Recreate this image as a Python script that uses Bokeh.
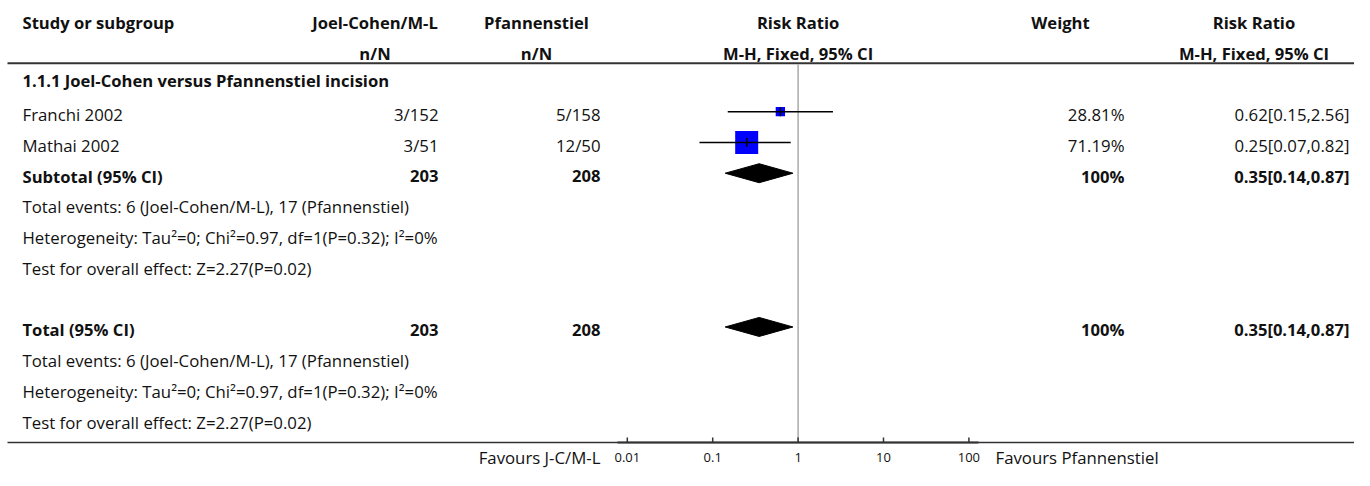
import math
from bokeh.plotting import figure
from bokeh.models import Range1d, LogScale, ColumnDataSource
from bokeh.core.properties import value
from bokeh.embed import file_html
from bokeh.resources import INLINE

# ---------------- data ----------------
studies = ["Franchi 2002", "Mathai 2002"]
jc_events = [3, 3]
jc_total = [152, 51]
pf_events = [5, 12]
pf_total = [158, 50]
weights = [28.81, 71.19]
rr = [0.62, 0.25]
rr_lo = [0.15, 0.07]
rr_hi = [2.56, 0.82]

subgroup_title = "1.1.1 Joel-Cohen versus Pfannenstiel incision"
pooled_rr = 0.35
pooled_lo = 0.14
pooled_hi = 0.87
pooled_weight = "100%"
stat_lines = ["Total events: 6 (Joel-Cohen/M-L), 17 (Pfannenstiel)",
              "Heterogeneity: Tau\u00b2=0; Chi\u00b2=0.97, df=1(P=0.32); I\u00b2=0%",
              "Test for overall effect: Z=2.27(P=0.02)"]
headers1 = ["Study or subgroup", "Joel-Cohen/M-L", "Pfannenstiel", "Risk Ratio", "Weight", "Risk Ratio"]
headers2 = ["n/N", "n/N", "M-H, Fixed, 95% CI", "M-H, Fixed, 95% CI"]
tick_values = [0.01, 0.1, 1, 10, 100]
tick_labels = ["0.01", "0.1", "1", "10", "100"]
favours_left = "Favours J-C/M-L"
favours_right = "Favours Pfannenstiel"

# ---------------- layout ----------------
FONT = "Open Sans"
FS = "16.8px"
FS_B = "16.6px"
TXT = "#111111"
W, H = 1354, 470
SY = 0.967                        # vertical squeeze to fit 470 px
FB = round(457 * SY)              # y of bottom rule / axis line
ROW0, ROWH = 19.6 * SY, 31.8 * SY # y of row 0, row pitch
X1, DEC = 797.6, 85.4             # x of RR=1, px per decade


def row_of(py):
    return (py - ROW0) / ROWH


def rr_of(px):
    return 10 ** ((px - X1) / DEC)


p = figure(frame_width=W, frame_height=H, min_border=0,
           x_range=Range1d(0, W),
           y_range=Range1d(row_of(H), row_of(0)),
           output_backend="svg", toolbar_location=None,
           x_axis_location=None, y_axis_location=None)
p.grid.visible = False
p.outline_line_color = None
p.background_fill_color = "white"
p.border_fill_color = "white"

p.extra_x_ranges = {"rr": Range1d(rr_of(0), rr_of(W))}
p.extra_x_scales = {"rr": LogScale()}

# rows
R_H1, R_H2, R_SG = 0, 1, 2
study_rows = [3, 4]
R_SUB = 5
sub_stat_rows = [6, 7, 8]
R_TOT = 10
tot_stat_rows = [11, 12, 13]
R_AX = row_of(FB)
R_TL = row_of(473 * SY)

# ---------------- lines ----------------
p.segment(x0=[7], x1=[W], y0=[row_of(65 * SY)], y1=[row_of(65 * SY)],
          line_color="#333333", line_width=2)
p.segment(x0=[7], x1=[W], y0=[R_AX], y1=[R_AX],
          line_color="#333333", line_width=1.5)
p.segment(x0=[1], x1=[1], y0=[row_of(66 * SY)], y1=[R_AX], x_range_name="rr",
          line_color="#aaaaaa", line_width=1.5)

# ---------------- x axis (log scale) ----------------
p.segment(x0=[rr_of(617)], x1=[rr_of(978)], y0=[R_AX], y1=[R_AX], x_range_name="rr",
          line_color="#333333", line_width=2)
p.segment(x0=tick_values, x1=tick_values, y0=[R_AX - 5 / ROWH] * len(tick_values),
          y1=[R_AX] * len(tick_values), x_range_name="rr",
          line_color="#333333", line_width=1.5)
p.text(x=tick_values, y=[R_TL] * len(tick_values), text=tick_labels, x_range_name="rr",
       text_align="center", text_baseline="middle", text_font=value(FONT),
       text_font_size="13px", text_color=TXT)

# ---------------- study marks ----------------
src = ColumnDataSource(dict(
    y=study_rows, rr=rr, lo=rr_lo, hi=rr_hi,
    size=[w * 23 / 71.19 for w in weights],
    t0=[r - 4.5 / ROWH for r in study_rows], t1=[r + 4.5 / ROWH for r in study_rows]))
p.scatter(x="rr", y="y", size="size", marker="square", source=src, x_range_name="rr",
          fill_color="#0000ff", line_color=None)
p.segment(x0="lo", x1="hi", y0="y", y1="y", source=src, x_range_name="rr",
          line_color="black", line_width=1.5)
p.segment(x0="rr", x1="rr", y0="t0", y1="t1", source=src, x_range_name="rr",
          line_color="black", line_width=1.5)

# pooled diamonds
HD = 9.5 / ROWH
dx, dy = [], []
for r in (R_SUB, R_TOT):
    dx.append([pooled_lo, pooled_rr, pooled_hi, pooled_rr])
    dy.append([r, r - HD, r, r + HD])
p.patches(xs=dx, ys=dy, x_range_name="rr", fill_color="black", line_color="black", line_width=1)


# ---------------- texts ----------------
def txt(xs, ys, texts, align="left", bold=False, yoff=3):
    p.text(x=xs, y=ys, text=texts, text_align=align, text_baseline="middle",
           text_font=value(FONT), text_font_size=FS_B if bold else FS,
           text_font_style="bold" if bold else "normal",
           text_color=TXT, y_offset=yoff)


XL = 22
XB_C, XB_R = 374.5, 438
XC_C, XC_R = 536, 600
XW_C, XW_R = 1060, 1124
XR_C, XR_R = 1253.5, 1349

# headers
txt([XL], [R_H1], [headers1[0]], bold=True)
txt([XB_C, XC_C, X1, XW_C, XR_C], [R_H1] * 5, headers1[1:], align="center", bold=True)
txt([XB_C, XC_C, X1, XR_C], [R_H2] * 4, headers2, align="center", bold=True)
txt([XL], [R_SG], [subgroup_title], bold=True, yoff=0)

# studies
txt([XL] * 2, study_rows, studies)
txt([XB_R] * 2, study_rows, [f"{e}/{n}" for e, n in zip(jc_events, jc_total)], align="right")
txt([XC_R] * 2, study_rows, [f"{e}/{n}" for e, n in zip(pf_events, pf_total)], align="right")
txt([XW_R] * 2, study_rows, [f"{w:.2f}%" for w in weights], align="right")
txt([XR_R] * 2, study_rows, [f"{a:.2f}[{b:.2f},{c:.2f}]" for a, b, c in zip(rr, rr_lo, rr_hi)],
    align="right")

# subtotal & total
pooled_str = f"{pooled_rr:.2f}[{pooled_lo:.2f},{pooled_hi:.2f}]"
for r, lab, stat_rows in ((R_SUB, "Subtotal (95% CI)", sub_stat_rows),
                          (R_TOT, "Total (95% CI)", tot_stat_rows)):
    txt([XL], [r], [lab], bold=True)
    txt([XB_R], [r], [str(sum(jc_total))], align="right", bold=True)
    txt([XC_R], [r], [str(sum(pf_total))], align="right", bold=True)
    txt([XW_R], [r], [pooled_weight], align="right", bold=True)
    txt([XR_R], [r], [pooled_str], align="right", bold=True)
    txt([XL] * 3, stat_rows, stat_lines)

# footers
txt([XC_R], [R_TL], [favours_left], align="right", yoff=0)
txt([995], [R_TL], [favours_right], align="left", yoff=0)

open("out.html", "w").write(file_html(p, INLINE))
